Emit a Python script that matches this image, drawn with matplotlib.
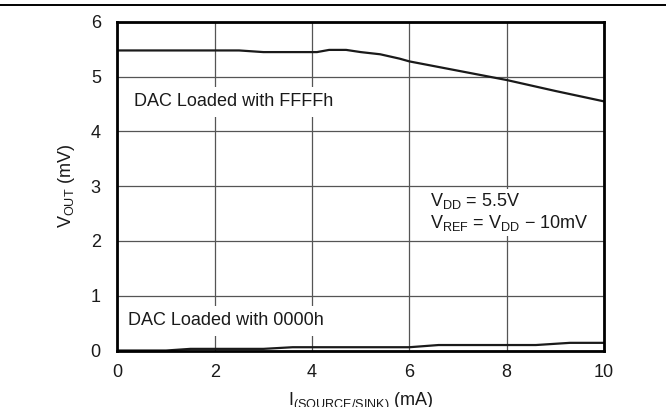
import matplotlib
matplotlib.use("Agg")
import matplotlib.pyplot as plt
from matplotlib.lines import Line2D

plt.rcParams["font.family"] = ["Liberation Sans", "DejaVu Sans"]
plt.rcParams["mathtext.fontset"] = "custom"
plt.rcParams["mathtext.rm"] = "Liberation Sans"
plt.rcParams["mathtext.it"] = "Liberation Sans:italic"
plt.rcParams["font.size"] = 13

# output voltage vs load current, full-scale and zero-scale codes
i_full = [0, 1, 2, 2.5, 3, 4.1, 4.35, 4.7, 5.0, 5.4, 5.8, 6, 7, 8, 9, 10]
v_full = [5.48, 5.48, 5.48, 5.48, 5.45, 5.45, 5.49, 5.49, 5.45, 5.41, 5.33,
          5.28, 5.11, 4.94, 4.74, 4.55]

i_zero = [0, 1.0, 1.5, 3.0, 3.6, 6.0, 6.6, 8.6, 9.3, 10]
v_zero = [0.0, 0.0, 0.03, 0.03, 0.06, 0.06, 0.10, 0.10, 0.14, 0.14]

x_ticks = [0, 2, 4, 6, 8, 10]
y_ticks = [0, 1, 2, 3, 4, 5, 6]

fig = plt.figure(figsize=(6.66, 4.07), dpi=100)
ax = fig.add_axes([0.1764, 0.1388, 0.7305, 0.8072])

ax.plot(i_full, v_full, color="#1a1a1a", lw=1.6, zorder=3)
ax.plot(i_zero, v_zero, color="#1a1a1a", lw=1.6, zorder=3)

ax.set_xlim(0, 10)
ax.set_ylim(0, 6)
ax.set_xticks(x_ticks)
ax.set_yticks(y_ticks)
ax.tick_params(length=0, labelsize=13, colors="#1a1a1a")
ax.tick_params(axis="x", pad=10)
ax.tick_params(axis="y", pad=12)
ax.grid(True, color="#555555", lw=0.9)
ax.set_axisbelow(True)
for s in ax.spines.values():
    s.set_linewidth(2.0)
    s.set_color("black")
    s.set_zorder(4)

ax.set_ylabel(r"V$_{\mathrm{OUT}}$ (mV)", fontsize=13, labelpad=10, color="#1a1a1a")
ax.set_xlabel(r"I$_{\mathrm{(SOURCE/SINK)}}$ (mA)", fontsize=13, labelpad=7,
              color="#1a1a1a")

box = dict(boxstyle="square,pad=0.35", fc="white", ec="none")
ax.text(0.34, 4.54, "DAC Loaded with FFFFh", ha="left", va="center",
        fontsize=13, color="#1a1a1a", bbox=box, zorder=2)
ax.text(0.22, 0.54, "DAC Loaded with 0000h", ha="left", va="center",
        fontsize=13, color="#1a1a1a", bbox=box, zorder=2)

# supply / reference note, tighter box so the 2 and 3 gridlines stay whole
box_note = dict(boxstyle="square,pad=0.12", fc="white", ec="none")
ax.text(6.42, 2.73, r"V$_{\mathrm{DD}}$ = 5.5V", ha="left", va="center",
        fontsize=13, color="#1a1a1a", bbox=box_note, zorder=2)
ax.text(6.42, 2.32, r"V$_{\mathrm{REF}}$ = V$_{\mathrm{DD}}$ − 10mV", ha="left",
        va="center", fontsize=13, color="#1a1a1a", bbox=box_note, zorder=2)

# rule across the top of the page
fig.add_artist(Line2D([0, 1], [1 - 5 / 407, 1 - 5 / 407], color="black", lw=1.4))

fig.savefig("out.png", dpi=100)
